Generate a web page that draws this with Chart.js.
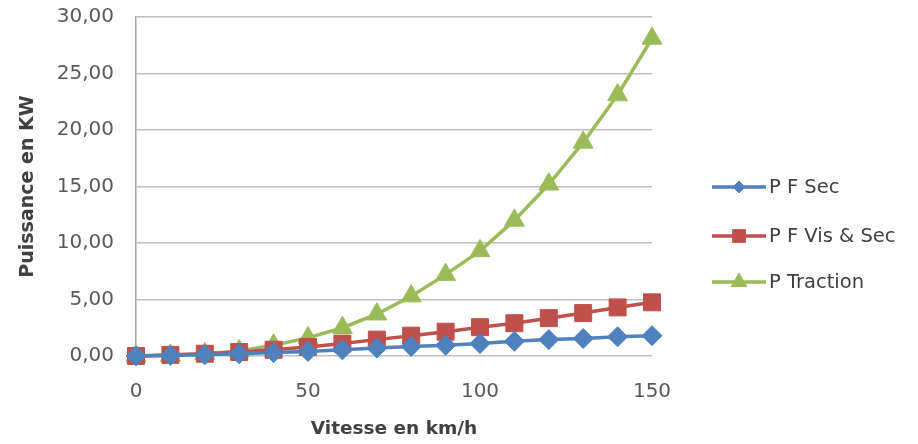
<!DOCTYPE html>
<html>
<head>
<meta charset="utf-8">
<script src="https://cdn.jsdelivr.net/npm/chart.js@4.4.1/dist/chart.umd.min.js"></script>
<style>
  html, body { margin: 0; padding: 0; background: #ffffff; }
  #wrap { width: 918px; height: 444px; position: relative; }
</style>
</head>
<body>
<div id="wrap"><canvas id="c" width="918" height="444"></canvas></div>
<script>
// ---- Data ----
const speeds = [0, 10, 20, 30, 40, 50, 60, 70, 80, 90, 100, 110, 120, 130, 140, 150];
const pfSec = [0, 0.05, 0.12, 0.2, 0.3, 0.4, 0.55, 0.7, 0.85, 0.95, 1.1, 1.3, 1.45, 1.55, 1.7, 1.8];
const pfVisSec = [0, 0.1, 0.2, 0.35, 0.55, 0.8, 1.1, 1.45, 1.8, 2.15, 2.55, 2.9, 3.35, 3.8, 4.3, 4.75];
const pTraction = [0, 0.05, 0.2, 0.45, 0.95, 1.6, 2.5, 3.7, 5.3, 7.2, 9.3, 12.0, 15.2, 18.9, 23.1, 28.1];
const seriesNames = ['P F Sec', 'P F Vis & Sec', 'P Traction'];
const xTitle = 'Vitesse en km/h';
const yTitle = 'Puissance en KW';

const FONT = "'DejaVu Sans', 'Liberation Sans', sans-serif";
const colors = ['#4F81BD', '#C0504D', '#9BBB59'];
const styles = ['rectRot', 'rect', 'triangle'];
const radii = [10, 12, 11.5];
const legendRadii = [6, 9, 9];

function toPts(vals) { return speeds.map((s, i) => ({ x: s, y: vals[i] })); }

const datasets = [pfSec, pfVisSec, pTraction].map((vals, i) => ({
  label: seriesNames[i],
  data: toPts(vals),
  borderColor: colors[i],
  backgroundColor: colors[i],
  pointBackgroundColor: colors[i],
  pointBorderColor: colors[i],
  pointStyle: styles[i],
  pointRadius: radii[i],
  pointBorderWidth: 1,
  borderWidth: 3.5,
  showLine: true,
  tension: 0,
  clip: false
}));

const legendPlugin = {
  id: 'customLegend',
  afterDraw(chart) {
    const ctx = chart.ctx;
    const ys = [187, 236, 282];
    ctx.save();
    datasets.forEach((ds, i) => {
      const y = ys[i];
      ctx.strokeStyle = ds.borderColor;
      ctx.lineWidth = 3.5;
      ctx.beginPath();
      ctx.moveTo(712, y);
      ctx.lineTo(766, y);
      ctx.stroke();
      ctx.fillStyle = ds.borderColor;
      ctx.strokeStyle = ds.borderColor;
      ctx.lineWidth = 1;
      Chart.helpers.drawPoint(ctx, { pointStyle: ds.pointStyle, radius: legendRadii[i], rotation: 0, borderWidth: 1 }, 739, y);
      ctx.fillStyle = '#404040';
      ctx.font = '19.5px ' + FONT;
      ctx.textBaseline = 'middle';
      ctx.textAlign = 'left';
      ctx.fillText(ds.label, 769, y + 1);
    });
    ctx.restore();
  }
};

new Chart(document.getElementById('c'), {
  type: 'scatter',
  data: { datasets },
  options: {
    responsive: false,
    animation: false,
    devicePixelRatio: 1,
    layout: { autoPadding: false, padding: { top: 17, right: 266, left: 0, bottom: 0 } },
    plugins: { legend: { display: false }, tooltip: { enabled: false } },
    scales: {
      x: {
        type: 'linear',
        min: 0, max: 150,
        grid: { display: false, drawTicks: false },
        border: { display: false },
        ticks: { stepSize: 50, color: '#595959', font: { family: FONT, size: 20 }, padding: 24, maxRotation: 0 },
        title: { display: true, text: xTitle, color: '#404040', font: { family: FONT, size: 18.5, weight: 'bold' }, padding: { top: 4 } },
        afterFit(scale) { scale.height = 88; scale.paddingLeft = 0; scale.paddingRight = 0; }
      },
      y: {
        min: 0, max: 30,
        grid: { color: '#BFBFBF', lineWidth: 1.5, drawTicks: false },
        border: { display: true, color: '#A6A6A6', width: 1.5 },
        ticks: {
          stepSize: 5, color: '#595959', font: { family: FONT, size: 20 }, padding: 22,
          callback: v => v.toFixed(2).replace('.', ',')
        },
        title: { display: true, text: yTitle, color: '#404040', font: { family: FONT, size: 19, weight: 'bold' }, padding: { top: 17, bottom: 0 } },
        afterFit(scale) { scale.width = 136; scale.paddingTop = 0; scale.paddingBottom = 0; }
      }
    }
  },
  plugins: [legendPlugin]
});
</script>
</body>
</html>
